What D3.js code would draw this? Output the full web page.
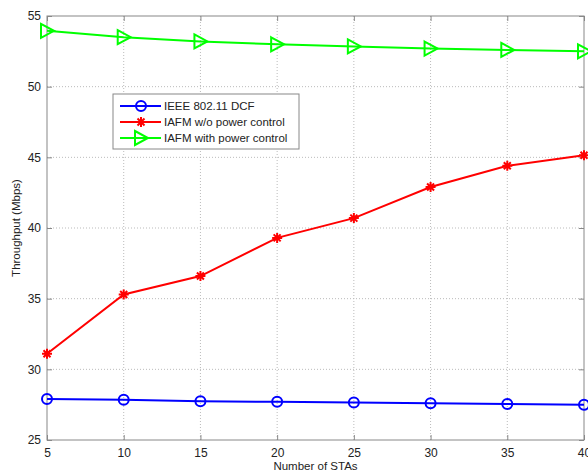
<!DOCTYPE html>
<html>
<head>
<meta charset="utf-8">
<script src="https://cdn.jsdelivr.net/npm/d3@7"></script>
<style>
  body { margin: 0; background: #fff; }
  text { font-family: "Liberation Sans", Arial, sans-serif; fill: #222; }
  .tick text { font-size: 12px; }
  .grid line { stroke: #bbb; stroke-dasharray: 1,2; }
  .chart-label { font-size: 11.5px; }
  .legend-label { font-size: 11.5px; }
</style>
</head>
<body>
<svg></svg>
<script>
// data
const stations = [5, 10, 15, 20, 25, 30, 35, 40]
const dcf = [27.9, 27.85, 27.75, 27.7, 27.65, 27.6, 27.55, 27.5]
const noPower = [31.1, 35.3, 36.6, 39.3, 40.7, 42.9, 44.4, 45.15]
const withPower = [53.95, 53.5, 53.2, 53.0, 52.85, 52.7, 52.6, 52.5]
const yTicks = [25, 30, 35, 40, 45, 50, 55]
const seriesNames = ['IEEE 802.11 DCF', 'IAFM w/o power control', 'IAFM with power control']

const w = 588
const h = 473
const margin = { top: 16, right: 4, bottom: 33, left: 47 }

const svg = d3.select('svg')
  .attr('width', w)
  .attr('height', h)

const xScale = d3.scaleLinear()
  .domain([5, 40])
  .range([margin.left, w - margin.right])

const yScale = d3.scaleLinear()
  .domain([25, 55])
  .range([h - margin.bottom, margin.top])

// grid
const grid = svg.append('g').attr('class', 'grid')
grid.selectAll('.gx')
  .data(stations.slice(1, -1))
  .enter()
  .append('line')
  .attr('x1', d => xScale(d))
  .attr('x2', d => xScale(d))
  .attr('y1', yScale(25))
  .attr('y2', yScale(55))
grid.selectAll('.gy')
  .data(yTicks.slice(1, -1))
  .enter()
  .append('line')
  .attr('x1', xScale(5))
  .attr('x2', xScale(40))
  .attr('y1', d => yScale(d))
  .attr('y2', d => yScale(d))

// axes
const xAxis = d3.axisBottom(xScale).tickValues(stations).tickSize(-5).tickPadding(8)
const yAxis = d3.axisLeft(yScale).tickValues(yTicks).tickSize(-5).tickPadding(6)

const styleAxis = g => {
  g.select('.domain').remove()
  g.selectAll('.tick line').attr('stroke', '#888')
  g.selectAll('.tick text').attr('fill', '#222')
}

svg.append('g')
  .attr('transform', `translate(0, ${h - margin.bottom})`)
  .call(xAxis)
  .call(styleAxis)

svg.append('g')
  .attr('transform', `translate(${margin.left}, 0)`)
  .call(yAxis)
  .call(styleAxis)

// ticks on top and right sides
svg.append('g')
  .attr('transform', `translate(0, ${margin.top})`)
  .call(d3.axisTop(xScale).tickValues(stations).tickSize(-5).tickFormat(''))
  .call(styleAxis)
svg.append('g')
  .attr('transform', `translate(${w - margin.right}, 0)`)
  .call(d3.axisRight(yScale).tickValues(yTicks).tickSize(-5).tickFormat(''))
  .call(styleAxis)

// frame
svg.append('rect')
  .attr('x', xScale(5))
  .attr('y', yScale(55))
  .attr('width', xScale(40) - xScale(5))
  .attr('height', yScale(25) - yScale(55))
  .attr('fill', 'none')
  .attr('stroke', '#888')

// labels
svg.append('text')
  .attr('text-anchor', 'middle')
  .attr('x', (xScale(5) + xScale(40)) / 2)
  .attr('y', h - 3)
  .attr('class', 'chart-label')
  .text('Number of STAs')

svg.append('text')
  .attr('text-anchor', 'middle')
  .attr('transform', `translate(20, ${(yScale(25) + yScale(55)) / 2})rotate(-90)`)
  .attr('class', 'chart-label')
  .text('Throughput (Mbps)')

// markers
const circleMark = (g) => g.append('circle').attr('r', 5).attr('fill', 'none')
const starMark = (g) => {
  const s = 5
  g.append('path')
    .attr('d', `M${-s},0L${s},0M0,${-s}L0,${s}M${-s * 0.7},${-s * 0.7}L${s * 0.7},${s * 0.7}M${-s * 0.7},${s * 0.7}L${s * 0.7},${-s * 0.7}`)
    .attr('fill', 'none')
}
const triMark = (g) => g.append('path').attr('d', 'M-6,-7L7,0L-6,7Z').attr('fill', 'none')

const series = [
  { name: seriesNames[0], values: dcf, color: '#0000ff', mark: circleMark },
  { name: seriesNames[1], values: noPower, color: '#ff0000', mark: starMark },
  { name: seriesNames[2], values: withPower, color: '#00ff00', mark: triMark }
]

const line = d3.line()
  .x((d, i) => xScale(stations[i]))
  .y(d => yScale(d))

series.forEach(s => {
  svg.append('path')
    .datum(s.values)
    .attr('d', line)
    .attr('fill', 'none')
    .attr('stroke', s.color)
    .attr('stroke-width', 2)

  s.values.forEach((v, i) => {
    const g = svg.append('g')
      .attr('transform', `translate(${xScale(stations[i])}, ${yScale(v)})`)
      .attr('stroke', s.color)
      .attr('stroke-width', 2)
    s.mark(g)
  })
})

// legend
const legend = svg.append('g').attr('transform', 'translate(113, 94)')
legend.append('rect')
  .attr('width', 186)
  .attr('height', 55)
  .attr('fill', '#fff')
  .attr('stroke', '#888')

series.forEach((s, i) => {
  const y = 12 + i * 16
  legend.append('line')
    .attr('x1', 7)
    .attr('x2', 48)
    .attr('y1', y)
    .attr('y2', y)
    .attr('stroke', s.color)
    .attr('stroke-width', 2)
  const g = legend.append('g')
    .attr('transform', `translate(28, ${y})`)
    .attr('stroke', s.color)
    .attr('stroke-width', 2)
  s.mark(g)
  legend.append('text')
    .attr('x', 51)
    .attr('y', y + 4)
    .attr('class', 'legend-label')
    .text(s.name)
})
</script>
</body>
</html>
